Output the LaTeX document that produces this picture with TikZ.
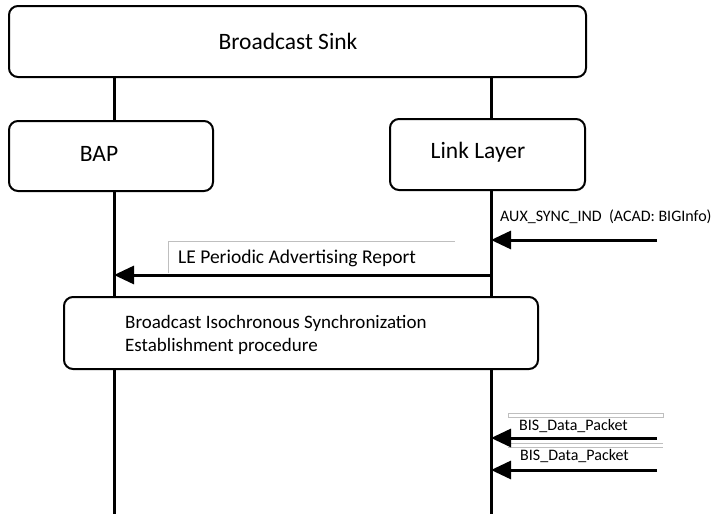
\documentclass[tikz,border=0pt]{standalone}
\usepackage{fontspec}
\setmainfont{Carlito}
\usetikzlibrary{arrows.meta}
\begin{document}
\begin{tikzpicture}[x=1pt,y=-1pt,
  entity/.style={draw,line width=2pt,rounded corners=9pt,fill=white},
  title/.style={inner sep=0pt,font=\fontsize{23.5}{26}\selectfont},
  life/.style={line width=3pt},
  msg/.style={line width=3pt,-{Triangle[length=20pt,width=18pt]}},
  lbl/.style={anchor=west,inner sep=0pt,font=\fontsize{16}{18}\selectfont},
  gray line/.style={draw=black!25,line width=0.6pt}]
\useasboundingbox (0,0) rectangle (718,514);
% lifelines
\coordinate (bapT) at (114,76);
\coordinate (llT) at (491,76);
\coordinate (bapB) at (114,514);
\coordinate (llB) at (491,514);
\draw[life] (bapT) -- (bapB);
\draw[life] (llT) -- (llB);
% boxes
\node[entity,minimum width=577pt,minimum height=71pt,anchor=north west] (sink) at (8,5) {};
\node[entity,minimum width=204pt,minimum height=70pt,anchor=north west] (bap) at (8,120) {};
\node[entity,minimum width=195pt,minimum height=71pt,anchor=north west] (ll) at (389,118) {};
\node[entity,minimum width=474pt,minimum height=72pt,anchor=north west] (proc) at (63,296) {};
\node[title] (sinkT) at (288,41) {Broadcast Sink};
\node[title] (bapTt) at (99,154) {BAP};
\node[title] (llTt) at (478,152) {Link Layer};
\node[lbl,align=left,font=\fontsize{19}{22.5}\selectfont] (proctxt) at (125,335) {Broadcast Isochronous Synchronization\\Establishment procedure};
% message endpoints
\coordinate (auxS) at (657,240);
\coordinate (auxE) at (491,240);
\coordinate (leS) at (491,275);
\coordinate (leE) at (114,275);
\coordinate (bis1S) at (657,438);
\coordinate (bis1E) at (491,438);
\coordinate (bis2S) at (657,470);
\coordinate (bis2E) at (491,470);
% label frames
\draw[gray line] (168,273) -- (168,241) -- (455,241);
\draw[gray line] (508,413) rectangle (663,417);
\draw[gray line] (508,443) -- (663,443);
\draw[gray line] (508,447) -- (663,447);
% messages
\draw[msg] (auxS) -- (auxE);
\draw[msg] (leS) -- (leE);
\draw[msg] (bis1S) -- (bis1E);
\draw[msg] (bis2S) -- (bis2E);
% labels
\node[lbl] (auxL) at (500,217) {AUX\_SYNC\_IND~~(ACAD: BIGInfo)};
\node[lbl,font=\fontsize{19.5}{22}\selectfont] (leL) at (178,258) {LE Periodic Advertising Report};
\node[lbl] (bis1L) at (519,426) {BIS\_Data\_Packet};
\node[lbl] (bis2L) at (520,456) {BIS\_Data\_Packet};
\end{tikzpicture}
\end{document}
